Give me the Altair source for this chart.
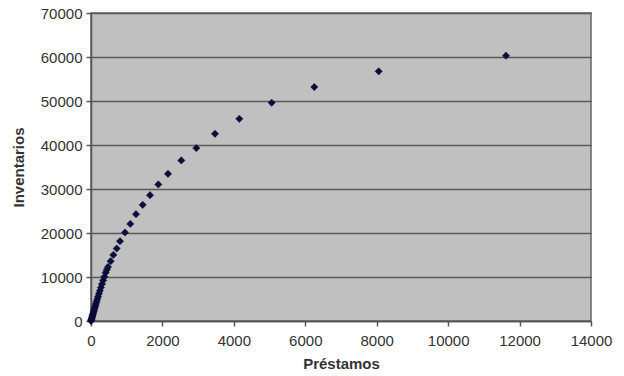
import altair as alt
import pandas as pd

# Préstamos (x) and Inventarios (y)
prestamos = [0, 6, 13, 21, 30, 40, 51, 63, 76, 90, 105, 121, 138, 157, 177, 199,
             223, 249, 277, 307, 340, 374, 411, 443, 476, 551, 625, 719, 812, 952,
             1101, 1260, 1447, 1652, 1885, 2156, 2529, 2949, 3472, 4153, 5059,
             6252, 8055, 11620]
inventarios = [0, 174, 377, 607, 866, 1152, 1466, 1808, 2177, 2574, 2995, 3440,
               3910, 4430, 4980, 5570, 6210, 6900, 7630, 8400, 9220, 10050, 11000,
               11650, 12287, 13584, 15017, 16473, 18140, 20114, 22071, 24278,
               26393, 28600, 31035, 33447, 36496, 39295, 42548, 45961, 49602,
               53174, 56746, 60296]

x_ticks = [0, 2000, 4000, 6000, 8000, 10000, 12000, 14000]
y_ticks = [0, 10000, 20000, 30000, 40000, 50000, 60000, 70000]

df = pd.DataFrame({"Préstamos": prestamos, "Inventarios": inventarios})

FONT = "Liberation Sans"

chart = (
    alt.Chart(df)
    .mark_point(shape="diamond", filled=True, size=52, color="#0d0d40", opacity=1,
                stroke="#000022", strokeWidth=0.5)
    .encode(
        x=alt.X("Préstamos:Q",
                scale=alt.Scale(domain=[0, 14000], nice=False, zero=True),
                axis=alt.Axis(values=x_ticks, grid=False, format="d",
                              title="Préstamos", titlePadding=8)),
        y=alt.Y("Inventarios:Q",
                scale=alt.Scale(domain=[0, 70000], nice=False),
                axis=alt.Axis(values=y_ticks, grid=True, format="d",
                              title="Inventarios", titlePadding=14)),
    )
    .properties(
        width=500,
        height=308,
        autosize=alt.AutoSizeParams(type="none"),
        padding={"left": 91, "top": 13, "right": 33, "bottom": 55},
        background="white",
    )
    .configure_view(fill="#c0c0c0", stroke="#666666", strokeWidth=1.5)
    .configure_axis(
        labelFont=FONT, labelFontSize=15, labelColor="#333333", labelFlush=False,
        labelOverlap=False,
        titleFont=FONT, titleFontSize=15, titleFontWeight="bold", titleColor="#333333",
        domainColor="#555555", domainWidth=1.5,
        tickColor="#555555", tickSize=5, tickWidth=1.5,
        gridColor="#5a5a5a", gridWidth=1.5,
    )
    .configure_axisX(labelPadding=7)
    .configure_axisY(labelPadding=4)
)

chart.save("out.html", embed_options={"renderer": "svg", "actions": False})
